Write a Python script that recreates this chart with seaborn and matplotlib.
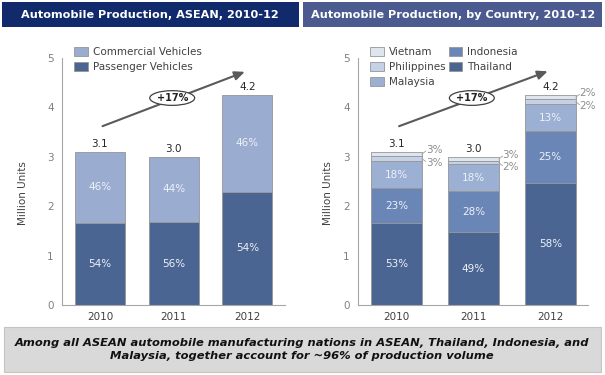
import numpy as np
import pandas as pd
import seaborn as sns
import matplotlib.pyplot as plt
from matplotlib.patches import Rectangle, Patch

# Data (million units)
years = ["2010", "2011", "2012"]

# left chart: ASEAN by vehicle type
passenger = [1.67, 1.68, 2.29]
commercial = [1.43, 1.32, 1.96]
passenger_pct = ["54%", "56%", "54%"]
commercial_pct = ["46%", "44%", "46%"]
totals_left = ["3.1", "3.0", "4.2"]

# right chart: by country
thailand = [1.65, 1.47, 2.46]
indonesia = [0.71, 0.84, 1.06]
malaysia = [0.56, 0.54, 0.55]
philippines = [0.09, 0.06, 0.09]
vietnam = [0.09, 0.09, 0.09]
thailand_pct = ["53%", "49%", "58%"]
indonesia_pct = ["23%", "28%", "25%"]
malaysia_pct = ["18%", "18%", "13%"]
philippines_pct = ["3%", "2%", "2%"]
vietnam_pct = ["3%", "3%", "2%"]
totals_right = ["3.1", "3.0", "4.2"]
growth = "+17%"

W, H = 605, 375
sns.set_theme(style="white")
plt.rcParams["font.family"] = ["DejaVu Sans"]

c_thai = "#4a6592"
c_indo = "#6a86b6"
c_mal = "#9cb0d3"
c_phil = "#c5d1e6"
c_viet = "#dfe5ef"
c_comm = "#9aadd1"
edge = "#959595"
txt_in = "#eef1f7"

fig = plt.figure(figsize=(W / 100, H / 100), dpi=100)


def px_rect(x0, y0, x1, y1, **kw):
    fig.add_artist(Rectangle((x0 / W, 1 - y1 / H), (x1 - x0) / W, (y1 - y0) / H,
                             transform=fig.transFigure, **kw))


# title bars
px_rect(2, 2, 299, 27, facecolor="#102a6b", edgecolor="none")
px_rect(303, 2, 602, 27, facecolor="#4b5b8f", edgecolor="none")
fig.text(150 / W, 1 - 14.5 / H, "Automobile Production, ASEAN, 2010-12", color="white",
         fontsize=8.15, fontweight="bold", ha="center", va="center")
fig.text(453 / W, 1 - 14.5 / H, "Automobile Production, by Country, 2010-12", color="white",
         fontsize=8.15, fontweight="bold", ha="center", va="center")

# bottom note
px_rect(4, 327, 601, 372, facecolor="#d9d9d9", edgecolor="#c4c4c4", linewidth=0.8)
fig.text(302 / W, 1 - 349.5 / H,
         "Among all ASEAN automobile manufacturing nations in ASEAN, Thailand, Indonesia, and\n"
         "Malaysia, together account for ~96% of production volume",
         ha="center", va="center", fontsize=8.25, fontweight="bold", fontstyle="italic",
         color="#111111", linespacing=1.3)


def style_axes(ax, label_x):
    ax.set_ylim(0, 5)
    ax.set_yticks(range(6))
    for s in ["top", "right"]:
        ax.spines[s].set_visible(False)
    for s in ["left", "bottom"]:
        ax.spines[s].set_color("#a6a6a6")
        ax.spines[s].set_linewidth(0.8)
    ax.tick_params(axis="y", length=3, width=0.8, color="#a6a6a6", labelsize=7.5,
                   labelcolor="#808080", pad=3)
    ax.tick_params(axis="x", length=0, labelsize=7.5, labelcolor="#404040", pad=5)
    ax.set_xlabel("")
    ax.set_ylabel("Million Units", fontsize=7.5, color="#404040")
    ax.yaxis.set_label_coords(label_x, 0.455)


def stack(ax, layers, colors, width):
    bottom = np.zeros(len(years))
    for vals, col in zip(layers, colors):
        sns.barplot(x=years, y=vals, bottom=bottom, color=col, width=width,
                    edgecolor=edge, linewidth=0.6, ax=ax, saturation=1)
        bottom = bottom + np.array(vals)
    return bottom


def growth_arrow(ax, y0, y1, ym):
    ax.annotate("", xy=(2.0, y1), xytext=(0.0, y0),
                arrowprops=dict(arrowstyle="-|>,head_length=0.5,head_width=0.22",
                                color="#5a5a5a", lw=1.5))
    ax.text(0.98, ym, growth, ha="center", va="center", fontsize=7, fontweight="bold",
            color="#222222",
            bbox=dict(boxstyle="ellipse,pad=0.02", facecolor="white", edgecolor="#404040",
                      linewidth=0.9))


# ---- left chart
ax1 = fig.add_axes([62 / W, 70 / H, 223 / W, 247 / H])
top1 = stack(ax1, [passenger, commercial], [c_thai, c_comm], 0.68)
ax1.set_xlim(-0.515, 2.51)
style_axes(ax1, -0.152)
for i in range(3):
    ax1.text(i, passenger[i] / 2, passenger_pct[i], ha="center", va="center",
             fontsize=7.5, color=txt_in)
    ax1.text(i, passenger[i] + commercial[i] / 2, commercial_pct[i], ha="center",
             va="center", fontsize=7.5, color=txt_in)
    ax1.text(i, top1[i] + 0.06, totals_left[i], ha="center", va="bottom", fontsize=7.5,
             color="#262626")
growth_arrow(ax1, 3.6, 4.74, 4.19)
ax1.legend(handles=[Patch(facecolor=c_comm, edgecolor=edge, lw=0.6, label="Commercial Vehicles"),
                    Patch(facecolor=c_thai, edgecolor=edge, lw=0.6, label="Passenger Vehicles")],
           loc="upper left", bbox_to_anchor=(0.035, 1.06), frameon=False, fontsize=7.5,
           handlelength=1.3, handleheight=0.95, handletextpad=0.5, labelspacing=0.45,
           borderaxespad=0, labelcolor="#404040")

# ---- right chart
ax2 = fig.add_axes([358 / W, 70 / H, 230 / W, 247 / H])
layers = [thailand, indonesia, malaysia, philippines, vietnam]
top2 = stack(ax2, layers, [c_thai, c_indo, c_mal, c_phil, c_viet], 0.66)
ax2.set_xlim(-0.5, 2.49)
style_axes(ax2, -0.11)
for i in range(3):
    b = 0
    for vals, pct in zip(layers[:3], [thailand_pct, indonesia_pct, malaysia_pct]):
        ax2.text(i, b + vals[i] / 2, pct[i], ha="center", va="center", fontsize=7.5,
                 color=txt_in)
        b += vals[i]
    phil_c = b + philippines[i] / 2
    viet_c = b + philippines[i] + vietnam[i] / 2
    xr = i + 0.33
    ax2.plot([xr, xr + 0.05], [viet_c, viet_c + 0.06], color="#a0a0a0", lw=0.6)
    ax2.plot([xr, xr + 0.05], [phil_c, phil_c - 0.06], color="#a0a0a0", lw=0.6)
    ax2.text(xr + 0.05, viet_c + 0.09, vietnam_pct[i], ha="left", va="center",
             fontsize=7.5, color="#8c8c8c")
    ax2.text(xr + 0.05, phil_c - 0.09, philippines_pct[i], ha="left", va="center",
             fontsize=7.5, color="#8c8c8c")
    ax2.text(i, top2[i] + 0.06, totals_right[i], ha="center", va="bottom", fontsize=7.5,
             color="#262626")
growth_arrow(ax2, 3.6, 4.75, 4.19)
ax2.legend(handles=[Patch(facecolor=c_viet, edgecolor=edge, lw=0.6, label="Vietnam"),
                    Patch(facecolor=c_phil, edgecolor=edge, lw=0.6, label="Philippines"),
                    Patch(facecolor=c_mal, edgecolor=edge, lw=0.6, label="Malaysia"),
                    Patch(facecolor=c_indo, edgecolor=edge, lw=0.6, label="Indonesia"),
                    Patch(facecolor=c_thai, edgecolor=edge, lw=0.6, label="Thailand")],
           ncol=2, loc="upper left", bbox_to_anchor=(0.035, 1.06), frameon=False,
           fontsize=7.5, handlelength=1.3, handleheight=0.95, handletextpad=0.5,
           labelspacing=0.45, columnspacing=0.3, borderaxespad=0, labelcolor="#404040")

fig.savefig("out.png", dpi=100)
